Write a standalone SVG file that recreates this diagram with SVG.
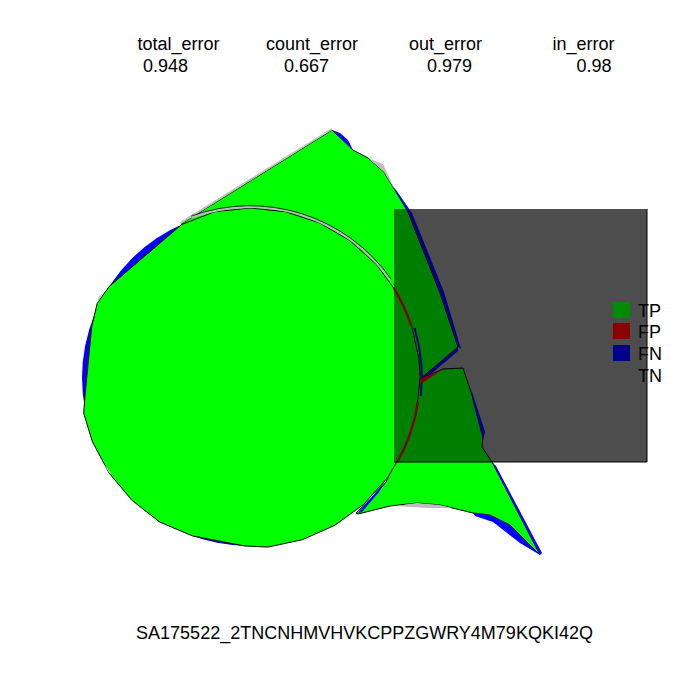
<svg xmlns="http://www.w3.org/2000/svg" width="700" height="700" viewBox="0 0 700 700">
<style>
text{font-family:"Liberation Sans",Arial,sans-serif;font-size:18px;fill:#000}
.hd{text-anchor:middle}
.g{fill:#00ff00;stroke:#000;stroke-width:1;stroke-linejoin:round}
.b{fill:#0000ff}
.gr{fill:#bebebe}
.r{fill:#ff0000}
</style>
<rect width="700" height="700" fill="#fff"/>
<g id="underlay"><rect x="394" y="209" width="253" height="253" fill="#9b9b9b"/></g>
<g id="truth-circle"><circle cx="250" cy="378" r="168" fill="#0000ff"/></g>
<g id="teardrop">
<polygon class="g" points="332,130 353,150 368,158 384,172 393,187 408,212 440,293 458,347 420,379 443,369 463,368 472,395 483,437 482,447 492,462 540,555 510,525 490,515 473,513 440,505 417,503 390,506 358,514 356,513 376,494 386,482 395,463 330,420 210,260 181,224"/>
<polygon class="b" points="332,130 340,133 348,140 353,150"/>
<polygon class="gr" points="368,158 383,164 396,192 393,187 384,172"/>
<polygon class="b" points="396,190 412,213 444,292 461,349 458,347 440,293 408,212 393,187"/>
<polygon class="b" points="458,347 420,379 425,379 458,351"/>
<polygon class="b" points="472,392 485,432 483,440 472,398"/>
<polygon class="b" points="492,462 496,466 542,553 540,555"/>
<polygon class="b" points="473,513 490,515 510,525 540,555 520,543 493,522 475,516"/>
<polygon class="gr" points="395,506 417,503 440,505 452,508 430,508 410,507"/>
<polygon class="b" points="358,513 375,493 385,481 379,492 362,512"/>
<polygon class="gr" points="332,128 180,222 181,224 332,130"/>
</g>
<g id="prediction-circle">
<polygon class="g" points="420,378 416.3,413.3 405.3,447.1 387.5,477.9 363.7,504.3 335,525.2 302.5,539.7 267.8,547.1 244.1,545.9 192.5,535.9 159.9,522.2 131.9,500.3 109.1,473.1 92.4,441.7 83.7,413.3 85,395.4 91.7,326.6 97.2,303.5 109.1,286.5 181.7,224.5 214.7,211.7 250,208 285.3,211.7 319.1,222.7 349.9,240.5 376.3,264.3 397.2,293 411.7,325.5 419.1,360.2"/>
<polygon class="gr" points="97.2,303.5 99,296 103,293"/>
<polygon class="gr" points="109.1,473.1 103,463 112,474"/>
<path d="M191.5,217.3 A171,171 0 0 1 390.1,279.9" fill="none" stroke="#bebebe" stroke-width="2.2"/>
<path d="M191.1,216.1 A172.3,172.3 0 0 1 391.1,279.2" fill="none" stroke="#000" stroke-width="0.8"/>
<path d="M393.7,288.2 A169.5,169.5 0 0 1 411.2,325.6" fill="none" stroke="#ff0000" stroke-width="2.2"/>
<path d="M417.9,401.6 A169.5,169.5 0 0 1 396.8,462.8" fill="none" stroke="#ff0000" stroke-width="2.2"/>
<path d="M414.5,328 A171,171 0 0 1 420.8,396" fill="none" stroke="#0000ff" stroke-width="2"/>
<polygon class="r" points="420,379 443,369 421,384"/>
</g>
<g id="overlay">
<rect x="394" y="209" width="253" height="253" fill="#000" fill-opacity="0.5"/>
<path d="M394,462H647V209" fill="none" stroke="#000" stroke-width="1"/>
</g>
<g id="legend">
<rect x="613" y="302" width="17" height="16" fill="#008b00"/>
<rect x="613" y="323" width="17" height="16" fill="#8b0000"/>
<rect x="613" y="345" width="17" height="16" fill="#00008b"/>
<text x="638" y="317">TP</text>
<text x="638" y="338">FP</text>
<text x="638" y="360">FN</text>
<text x="638" y="382">TN</text>
</g>
<g id="metrics">
<text class="hd" x="178.5" y="50">total_error</text>
<text class="hd" x="312" y="50">count_error</text>
<text class="hd" x="445.5" y="50">out_error</text>
<text class="hd" x="583.5" y="50">in_error</text>
<text class="hd" x="165.5" y="72">0.948</text>
<text class="hd" x="306.5" y="72">0.667</text>
<text class="hd" x="449.5" y="72">0.979</text>
<text class="hd" x="594" y="72">0.98</text>
</g>
<g id="title"><text class="hd" x="364.5" y="639">SA175522_2TNCNHMVHVKCPPZGWRY4M79KQKI42Q</text></g>
</svg>
